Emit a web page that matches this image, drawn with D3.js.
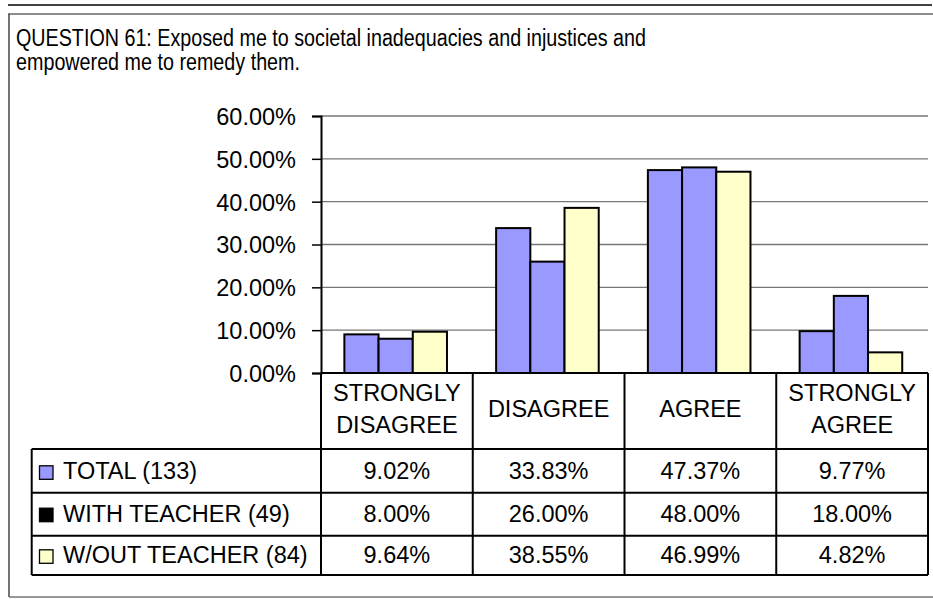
<!DOCTYPE html>
<html><head><meta charset="utf-8">
<script src="https://cdn.jsdelivr.net/npm/d3@7"></script>
<style>
body{margin:0;background:#fff}
svg{display:block}
text{font-family:"Liberation Sans",Arial,sans-serif;fill:#000}
</style>
</head><body>
<svg id="c" width="933" height="599"></svg>
<script>
const title = ["QUESTION 61: Exposed me to societal inadequacies and injustices and", "empowered me to remedy them."];
const categories = ["STRONGLY DISAGREE", "DISAGREE", "AGREE", "STRONGLY AGREE"];
const categoryLines = [["STRONGLY", "DISAGREE"], ["DISAGREE"], ["AGREE"], ["STRONGLY", "AGREE"]];
const seriesNames = ["TOTAL (133)", "WITH TEACHER (49)", "W/OUT TEACHER (84)"];
const total = [0.0902, 0.3383, 0.4737, 0.0977];
const withTeacher = [0.08, 0.26, 0.48, 0.18];
const withoutTeacher = [0.0964, 0.3855, 0.4699, 0.0482];
const tableLabels = [
  ["9.02%", "33.83%", "47.37%", "9.77%"],
  ["8.00%", "26.00%", "48.00%", "18.00%"],
  ["9.64%", "38.55%", "46.99%", "4.82%"]
];
const tickValues = [0, 0.1, 0.2, 0.3, 0.4, 0.5, 0.6];
const barColors = ["#9999FF", "#9999FF", "#FFFFCC"];
const legendColors = ["#9999FF", "#000000", "#FFFFCC"];

const series = [total, withTeacher, withoutTeacher];
const svg = d3.select("#c");
const FS = 23.5;

// frame
svg.append("line").attr("x1", 8).attr("x2", 932).attr("y1", 5).attr("y2", 5).attr("stroke", "#000").attr("stroke-width", 1.5);
svg.append("line").attr("x1", 8).attr("x2", 933).attr("y1", 14).attr("y2", 14).attr("stroke", "#666").attr("stroke-width", 1.5);
svg.append("line").attr("x1", 9).attr("x2", 9).attr("y1", 14).attr("y2", 597).attr("stroke", "#444").attr("stroke-width", 1.5);
svg.append("line").attr("x1", 9).attr("x2", 933).attr("y1", 597).attr("y2", 597).attr("stroke", "#777").attr("stroke-width", 1.5);

// title (the original glyphs are narrow: full-height text compressed horizontally)
const titleWidths = [630, 284];
svg.append("g").selectAll("text").data(title).join("text")
  .attr("x", 16).attr("y", (d, i) => 46 + i * 24)
  .attr("font-size", 23)
  .attr("textLength", (d, i) => titleWidths[i]).attr("lengthAdjust", "spacingAndGlyphs")
  .text(d => d);

const plotL = 321, plotR = 928, plotT = 116, plotB = 373;
const y = d3.scaleLinear().domain([0, 0.6]).range([plotB, plotT]);
const x = d3.scaleBand().domain(categories).range([plotL, plotR]).paddingInner(0).paddingOuter(0);
const bw = 34.2;
const xs = d3.scaleBand().domain(seriesNames).range([0, bw * 3]);

// gridlines
svg.append("g").selectAll("line").data(tickValues.filter(v => v > 0)).join("line")
  .attr("x1", plotL).attr("x2", plotR).attr("y1", d => y(d)).attr("y2", d => y(d))
  .attr("stroke", "#777").attr("stroke-width", 1.3);

// y axis
const yAxis = d3.axisLeft(y).tickValues(tickValues).tickFormat(d => (d * 100).toFixed(2) + "%").tickSizeOuter(0).tickSize(9).tickPadding(16);
const ya = svg.append("g").attr("transform", `translate(${plotL},0)`).call(yAxis);
ya.select(".domain").attr("stroke", "#000").attr("stroke-width", 2);
ya.selectAll(".tick line").attr("stroke", "#000").attr("stroke-width", 1.5);
ya.selectAll(".tick text").attr("font-size", FS).attr("font-family", '"Liberation Sans",Arial,sans-serif').attr("fill", "#000").attr("dy", "0.36em");

// bars
const groups = svg.append("g").selectAll("g").data(categories).join("g")
  .attr("transform", d => `translate(${x(d) + (x.bandwidth() - bw * 3) / 2 - 1.2},0)`);
groups.selectAll("rect").data((d, ci) => series.map((s, si) => ({ci, si, v: s[ci]}))).join("rect")
  .attr("x", d => xs(seriesNames[d.si])).attr("width", xs.bandwidth())
  .attr("y", d => y(d.v)).attr("height", d => plotB - y(d.v))
  .attr("fill", d => barColors[d.si]).attr("stroke", "#000").attr("stroke-width", 2);

// table
const rowTops = [449, 492.7, 535.7];
const rowBaselines = [479.3, 521.7, 563.3];
const tableL = 31.7;
const tg = svg.append("g");
categories.forEach((c, ci) => {
  const cx = x(c) + x.bandwidth() / 2;
  const lines = categoryLines[ci];
  const baseY = lines.length === 2 ? [401, 432.5] : [417.3];
  lines.forEach((ln, li) => {
    tg.append("text").attr("x", cx).attr("y", baseY[li]).attr("text-anchor", "middle").attr("font-size", FS).text(ln);
  });
});
tableLabels.forEach((row, ri) => {
  const by = rowBaselines[ri];
  row.forEach((v, ci) => {
    tg.append("text").attr("x", x(categories[ci]) + x.bandwidth() / 2).attr("y", by).attr("text-anchor", "middle").attr("font-size", FS).text(v);
  });
  tg.append("rect").attr("x", 39.5).attr("y", by - 13.5).attr("width", 13.5).attr("height", 13.5)
    .attr("fill", legendColors[ri]).attr("stroke", "#000").attr("stroke-width", 1.3);
  tg.append("text").attr("x", 63).attr("y", by).attr("font-size", FS).text(seriesNames[ri]);
});
const lineStyle = s => s.attr("stroke", "#000").attr("stroke-width", 2);
lineStyle(tg.append("line").attr("x1", plotL).attr("x2", plotR).attr("y1", plotB).attr("y2", plotB));
[...rowTops, 575].forEach(yy => lineStyle(tg.append("line").attr("x1", tableL).attr("x2", plotR).attr("y1", yy).attr("y2", yy)));
lineStyle(tg.append("line").attr("x1", tableL).attr("x2", tableL).attr("y1", rowTops[0]).attr("y2", 575));
[...categories.map(c => x(c)), plotR].forEach(xx => lineStyle(tg.append("line").attr("x1", xx).attr("x2", xx).attr("y1", plotB).attr("y2", 575)));
</script>
</body></html>
